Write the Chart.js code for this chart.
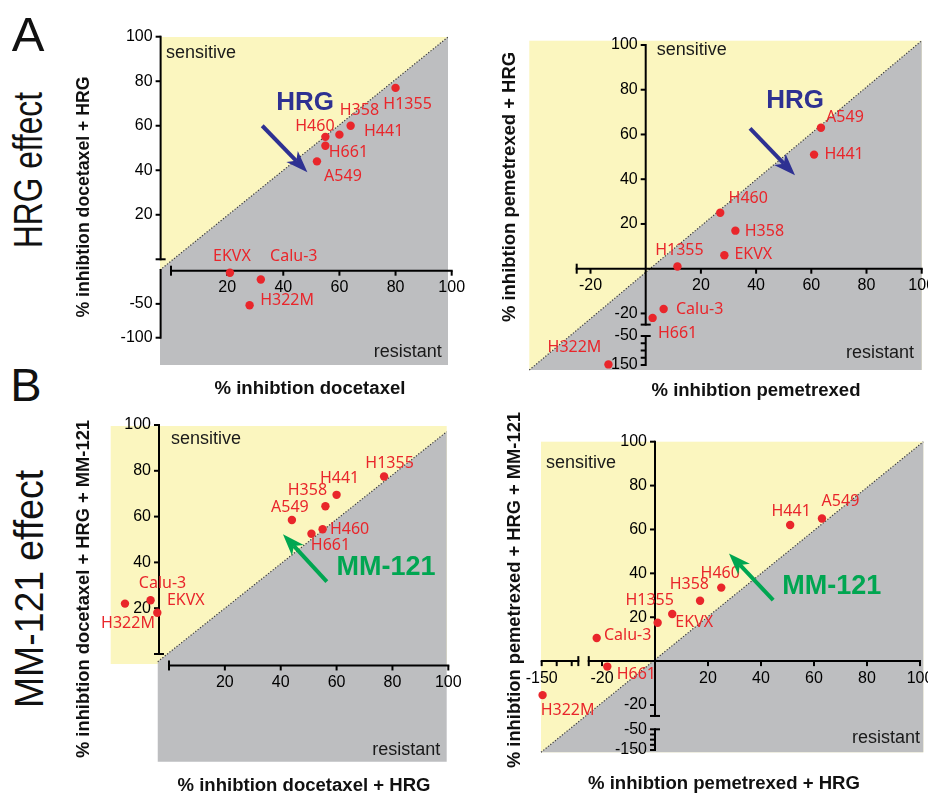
<!DOCTYPE html>
<html>
<head>
<meta charset="utf-8">
<title>HRG and MM-121 effect</title>
<script src="https://cdn.jsdelivr.net/npm/chart.js@4.4.0/dist/chart.umd.min.js"></script>
<style>
  body { margin: 0; background: #fff; }
  #page { position: relative; width: 928px; height: 793px; overflow: hidden; font-family: "Liberation Sans", Arial, sans-serif; color: #111; }
  canvas { position: absolute; }
  .txt { position: absolute; white-space: nowrap; line-height: 1; }
</style>
</head>
<body>
<div id="page">
  <canvas id="aLeft" width="430" height="400" style="left:60px;top:0px"></canvas>
  <canvas id="aRight" width="438" height="400" style="left:490px;top:0px"></canvas>
  <canvas id="bLeft" width="430" height="393" style="left:60px;top:400px"></canvas>
  <canvas id="bRight" width="438" height="393" style="left:490px;top:400px"></canvas>
</div>
<script>
// ---- data: % inhibition per cell line ----
// A, docetaxel
const aLeftNames = ["H1355", "H441", "H358", "H460", "H661", "A549", "EKVX", "Calu-3", "H322M"];
const aLeftX = [80, 64, 60, 55, 55, 52, 21, 32, 28];
const aLeftY = [77, 60, 56, 55, 51, 44, -4, -14, -52];
// A, pemetrexed
const aRightNames = ["A549", "H441", "H460", "H358", "EKVX", "H1355", "Calu-3", "H661", "H322M"];
const aRightX = [63.5, 61, 27, 32.5, 28.5, 11.5, 6.5, 2.5, -13.5];
const aRightY = [63, 51, 25, 17, 6, 1, -18, -22, -148];
// B, docetaxel + HRG
const bLeftNames = ["H1355", "H441", "H358", "A549", "H460", "H661", "Calu-3", "EKVX", "H322M"];
const bLeftX = [77, 60, 56, 44, 55, 51, -14, -4, -52];
const bLeftY = [77.5, 69.5, 64.5, 58.5, 54.5, 52.5, 23.5, 18, 22];
// B, pemetrexed + HRG
const bRightNames = ["A549", "H441", "H460", "H358", "EKVX", "H1355", "Calu-3", "H661", "H322M"];
const bRightX = [63, 51, 25, 17, 6.5, 1, -22, -18, -147];
const bRightY = [65, 62, 33.5, 27.5, 21.5, 17.5, 10.5, -2.5, -15.5];

// tick values
const ticksPos = [20, 40, 60, 80, 100];
const ticksPosNeg = [-20, 20, 40, 60, 80, 100];
const ticksLow100 = [-50, -100];
const ticksLow150 = [-75, -100, -125, -150];
const labelsLow150 = [-50, -150];
const ticksLowX150 = [-150, -100, -50];

const RED = "#e9262b";
const YELLOW = "#fbf6bf";
const GREY = "#bdbec0";
const BLUE = "#2e3192";
const GREEN = "#00a651";
const TICK_FONT = '16px "Liberation Sans", Arial, sans-serif';
const NAME_FONT = '16px "Noto Sans", "Liberation Sans", sans-serif';
const CORNER_FONT = '18px "Liberation Sans", Arial, sans-serif';

// scale with broken (piecewise linear) segments
class BrokenScale extends Chart.LinearScale {
  segFor(v) {
    const s = this.options.segments;
    for (let i = s.length - 1; i >= 0; i--) {
      if (v >= s[i].from && v <= s[i].to) return i;
    }
    let best = 0, bd = Infinity;
    for (let i = 0; i < s.length; i++) {
      const d = Math.min(Math.abs(v - s[i].from), Math.abs(v - s[i].to));
      if (d < bd) { bd = d; best = i; }
    }
    return best;
  }
  pixelInSeg(i, v) {
    const g = this.options.segments[i];
    return this.getPixelForDecimal(g.a + (v - g.from) / (g.to - g.from) * (g.b - g.a));
  }
  getPixelForValue(v) {
    if (v === null || v === undefined || isNaN(v)) return NaN;
    return this.pixelInSeg(this.segFor(v), v);
  }
}
BrokenScale.id = "broken";
BrokenScale.defaults = {};
Chart.register(BrokenScale);

function line(ctx, x0, y0, x1, y1) {
  ctx.beginPath(); ctx.moveTo(x0, y0); ctx.lineTo(x1, y1); ctx.stroke();
}

function arrow(ctx, x0, y0, x1, y1, color) {
  const ang = Math.atan2(y1 - y0, x1 - x0), hl = 22, hw = 8;
  const c = Math.cos(ang), s = Math.sin(ang);
  const bx = x1 - hl * c, by = y1 - hl * s;
  ctx.strokeStyle = color; ctx.fillStyle = color; ctx.lineWidth = 4;
  line(ctx, x0, y0, bx + 6 * c, by + 6 * s);
  ctx.beginPath();
  ctx.moveTo(x1, y1);
  ctx.lineTo(bx + hw * s, by - hw * c);
  ctx.lineTo(bx + 6 * c, by + 6 * s);
  ctx.lineTo(bx - hw * s, by + hw * c);
  ctx.closePath(); ctx.fill();
}

function panelPlugin(cfg, names) {
  return {
    id: "panel",
    beforeDatasetsDraw(chart) {
      const ctx = chart.ctx, a = chart.chartArea;
      const xs = chart.scales.x, ys = chart.scales.y;
      const fx = f => a.left + f * (a.right - a.left);
      const fy = f => a.bottom - f * (a.bottom - a.top);
      ctx.save();
      // background regions
      const yb = cfg.yellow;
      ctx.fillStyle = YELLOW;
      ctx.fillRect(fx(yb[0]), fy(yb[3]), fx(yb[2]) - fx(yb[0]), fy(yb[1]) - fy(yb[3]));
      ctx.fillStyle = GREY;
      ctx.beginPath();
      cfg.grey.forEach(([u, v], i) => i ? ctx.lineTo(fx(u), fy(v)) : ctx.moveTo(fx(u), fy(v)));
      ctx.closePath(); ctx.fill();
      ctx.strokeStyle = "#3a3a3a"; ctx.lineWidth = 1.2; ctx.setLineDash([1.2, 1.8]);
      line(ctx, fx(cfg.grey[0][0]), fy(cfg.grey[0][1]), fx(cfg.grey[1][0]), fy(cfg.grey[1][1]));
      ctx.setLineDash([]);

      // axes
      ctx.strokeStyle = "#000"; ctx.fillStyle = "#000"; ctx.lineWidth = 2;
      ctx.font = TICK_FONT;
      cfg.xAxes.forEach(ax => {
        const g = xs.options.segments[ax.seg];
        const y = ys.getPixelForValue(ax.at);
        const p0 = xs.pixelInSeg(ax.seg, g.from), p1 = xs.pixelInSeg(ax.seg, g.to);
        line(ctx, p0 - 1, y, p1 + 1, y);
        ax.ticks.forEach(v => { const p = xs.pixelInSeg(ax.seg, v); line(ctx, p, y, p, y + 5); });
        if (ax.capStart) line(ctx, p0, y - 5, p0, y + 5);
        if (ax.capEnd) line(ctx, p1, y - 5, p1, y + 5);
        ctx.textAlign = "center"; ctx.textBaseline = "middle";
        ax.labels.forEach(v => ctx.fillText(String(v), xs.pixelInSeg(ax.seg, v), y + 17));
      });
      cfg.yAxes.forEach(ax => {
        const g = ys.options.segments[ax.seg];
        const x = xs.getPixelForValue(ax.at);
        const p0 = ys.pixelInSeg(ax.seg, g.from), p1 = ys.pixelInSeg(ax.seg, g.to);
        line(ctx, x, p0 + 1, x, p1 - 1);
        ax.ticks.forEach(v => { const p = ys.pixelInSeg(ax.seg, v); line(ctx, x - 5, p, x, p); });
        if (ax.capStart) line(ctx, x - 5, p0, x + 5, p0);
        if (ax.capEnd) line(ctx, x - 5, p1, x + 5, p1);
        ctx.textAlign = "right"; ctx.textBaseline = "middle";
        ax.labels.forEach(v => ctx.fillText(String(v), x - 8, ys.pixelInSeg(ax.seg, v)));
      });
      ctx.restore();
    },
    afterDatasetsDraw(chart) {
      const ctx = chart.ctx, xs = chart.scales.x, ys = chart.scales.y;
      const pts = chart.getDatasetMeta(0).data;
      ctx.save();
      ctx.font = NAME_FONT; ctx.fillStyle = RED;
      ctx.textAlign = "center"; ctx.textBaseline = "middle";
      pts.forEach((p, i) => {
        const off = cfg.nameOffsets[i];
        ctx.fillText(names[i], p.x + off[0], p.y + off[1]);
      });
      cfg.notes.forEach(n => {
        ctx.font = n.font; ctx.fillStyle = n.color; ctx.textAlign = n.align;
        ctx.fillText(n.text, xs.getPixelForValue(n.x), ys.getPixelForValue(n.y));
      });
      const ar = cfg.arrow;
      arrow(ctx, xs.getPixelForValue(ar.x0), ys.getPixelForValue(ar.y0),
        xs.getPixelForValue(ar.x1), ys.getPixelForValue(ar.y1), ar.color);
      ctx.restore();
    }
  };
}

function makePanel(id, names, xv, yv, cfg) {
  new Chart(document.getElementById(id), {
    type: "scatter",
    data: {
      datasets: [{
        data: names.map((n, i) => ({ x: xv[i], y: yv[i] })),
        backgroundColor: RED,
        borderWidth: 0,
        pointRadius: 4.2,
        clip: false
      }]
    },
    options: {
      responsive: false,
      animation: false,
      events: [],
      layout: { padding: cfg.padding },
      plugins: { legend: { display: false }, tooltip: { enabled: false } },
      scales: {
        x: { type: "broken", display: false, min: cfg.xMin, max: 100, segments: cfg.xSeg },
        y: { type: "broken", display: false, min: cfg.yMin, max: 100, segments: cfg.ySeg }
      }
    },
    plugins: [panelPlugin(cfg, names)]
  });
}

const hrgFont = 'bold 26px "Liberation Sans", Arial, sans-serif';
const mmFont = 'bold 27px "Liberation Sans", Arial, sans-serif';
function corner(text, x, y, align) {
  return { text, x, y, align, font: CORNER_FONT, color: "#1a1a1a" };
}

makePanel("aLeft", aLeftNames, aLeftX, aLeftY, {
  padding: { left: 100, top: 37, right: 42, bottom: 35 },
  xMin: 0, yMin: -100,
  xSeg: [{ from: 0, to: 100, a: 0.0382, b: 1.0128 }],
  ySeg: [{ from: -100, to: 0, a: 0.0832, b: 0.2896 }, { from: 0, to: 100, a: 0.3223, b: 1.0009 }],
  yellow: [0, 0, 1, 1],
  grey: [[0, 0.2896], [1, 1], [1, 0], [0, 0]],
  xAxes: [{ seg: 0, at: -1, ticks: ticksPos, labels: ticksPos, capStart: true }],
  yAxes: [
    { seg: 1, at: -3.7, ticks: ticksPos, labels: ticksPos, capStart: true },
    { seg: 0, at: -3.7, ticks: ticksLow100, labels: ticksLow100 }
  ],
  nameOffsets: [[12, 17], [33, 6], [20, -24], [-10.5, -10], [23, 7], [26, 15], [2, -16], [33, -22.6], [37.5, -5]],
  notes: [
    corner("sensitive", -1.8, 92.7, "left"),
    corner("resistant", 96.5, -120.7, "right"),
    { text: "HRG", x: 47.8, y: 70.5, align: "center", font: hrgFont, color: BLUE }
  ],
  arrow: { x0: 32.5, y0: 60, x1: 48.6, y1: 39.1, color: BLUE }
});

makePanel("aRight", aRightNames, aRightX, aRightY, {
  padding: { left: 39.3, top: 40.7, right: 6.3, bottom: 30 },
  xMin: -25, yMin: -150,
  xSeg: [{ from: -25, to: 100, a: 0.1208, b: 1.0 }],
  ySeg: [{ from: -150, to: -50, a: 0.0152, b: 0.1032 }, { from: -25, to: 100, a: 0.1378, b: 0.987 }],
  yellow: [0, 0, 1, 1],
  grey: [[0, 0], [1, 1], [1, 0]],
  xAxes: [{ seg: 0, at: 0, ticks: ticksPosNeg, labels: ticksPosNeg, capStart: true }],
  yAxes: [
    { seg: 1, at: 0, ticks: ticksPosNeg, labels: ticksPosNeg, capStart: true },
    { seg: 0, at: 0, ticks: ticksLow150, labels: labelsLow150, capEnd: true }
  ],
  nameOffsets: [[24, -10], [30, 0], [28, -14], [29, 1], [29, -1], [2, -16], [36, 0], [25, 16], [-34, -17]],
  notes: [
    corner("sensitive", 4, 97.6, "left"),
    corner("resistant", 97.2, -107.6, "right"),
    { text: "HRG", x: 54.1, y: 74.9, align: "center", font: hrgFont, color: BLUE }
  ],
  arrow: { x0: 37.8, y0: 62.7, x1: 54.1, y1: 41.8, color: BLUE }
});

makePanel("bLeft", bLeftNames, bLeftX, bLeftY, {
  padding: { left: 50.7, top: 26, right: 43.3, bottom: 31.3 },
  xMin: -60, yMin: 0,
  xSeg: [{ from: -60, to: 0, a: 0.0265, b: 0.1467 }, { from: 0, to: 100, a: 0.1735, b: 1.0048 }],
  ySeg: [{ from: 0, to: 100, a: 0.3208, b: 1.003 }],
  yellow: [0, 0.291, 1, 1],
  grey: [[0.14, 0.298], [1, 0.983], [1, 0], [0.14, 0]],
  xAxes: [{ seg: 1, at: -5, ticks: ticksPos, labels: ticksPos, capStart: true }],
  yAxes: [{ seg: 0, at: -1.5, ticks: ticksPos, labels: ticksPos, capStart: true }],
  nameOffsets: [[5.5, -13], [3, -16], [-18, -16], [-2, -13], [27, 0], [19, 12], [12, -17], [28.5, -12], [3, 20]],
  notes: [
    corner("sensitive", 0.7, 93.9, "left"),
    corner("resistant", 97.1, -41.9, "right"),
    { text: "MM-121", x: 77.7, y: 37.9, align: "center", font: mmFont, color: GREEN }
  ],
  arrow: { x0: 56.5, y0: 31.6, x1: 40.8, y1: 52.3, color: GREEN }
});

makePanel("bRight", bRightNames, bRightX, bRightY, {
  padding: { left: 51, top: 41.7, right: 4.7, bottom: 40.7 },
  xMin: -150, yMin: -150,
  xSeg: [{ from: -150, to: -28, a: 0.0018, b: 0.0976 }, { from: -25, to: 100, a: 0.1249, b: 0.9914 }],
  ySeg: [{ from: -150, to: -50, a: 0.0074, b: 0.074 }, { from: -25, to: 100, a: 0.117, b: 1.0 }],
  yellow: [0, 0, 1, 1],
  grey: [[0, 0], [1, 1], [1, 0]],
  xAxes: [
    { seg: 1, at: 0, ticks: ticksPosNeg, labels: ticksPosNeg, capStart: true },
    { seg: 0, at: 0, ticks: ticksLowX150, labels: [-150], capEnd: true }
  ],
  yAxes: [
    { seg: 1, at: 0, ticks: ticksPosNeg, labels: ticksPosNeg, capStart: true },
    { seg: 0, at: 0, ticks: ticksLow150, labels: labelsLow150, capEnd: true }
  ],
  nameOffsets: [[18.5, -17], [1, -14], [-1, -14], [-10.7, -16.7], [22, 9], [-8, -22.7], [31, -3], [29, 8], [25, 15]],
  notes: [
    corner("sensitive", -135.7, 90.2, "left"),
    corner("resistant", 100, -93.5, "right"),
    { text: "MM-121", x: 66.7, y: 34.1, align: "center", font: mmFont, color: GREEN }
  ],
  arrow: { x0: 44.6, y0: 27.8, x1: 27.9, y1: 49.1, color: GREEN }
});

// ---- page texts (letters, row titles, axis titles) ----
const page = document.getElementById("page");
const measure = document.createElement("canvas").getContext("2d");
function addText(text, cx, cy, size, weight, rotate, length) {
  const el = document.createElement("div");
  el.className = "txt";
  el.textContent = text;
  const font = weight + " " + size + 'px "Liberation Sans", Arial, sans-serif';
  el.style.font = font;
  el.style.lineHeight = "1";
  el.style.left = cx + "px";
  el.style.top = cy + "px";
  let k = 1;
  if (length) {
    measure.font = font;
    k = length / measure.measureText(text).width;
  }
  el.style.transform = "translate(-50%,-50%)" + (rotate ? " rotate(-90deg)" : "") + " scaleX(" + k.toFixed(3) + ")";
  page.appendChild(el);
}

addText("A", 28, 34, 49, "normal", false);
addText("B", 26, 384, 47, "normal", false);
addText("HRG effect", 28, 170, 41, "normal", true, 156);
addText("MM-121 effect", 29, 589, 41, "normal", true, 238);

addText("% inhibtion docetaxel + HRG", 83, 197, 18, "bold", true, 241);
addText("% inhibtion pemetrexed + HRG", 509, 187, 18, "bold", true, 270);
addText("% inhibtion docetaxel + HRG + MM-121", 83, 589, 18, "bold", true, 338);
addText("% inhibtion pemetrexed + HRG + MM-121", 514, 590, 18, "bold", true, 356);

addText("% inhibtion docetaxel", 310, 388, 18, "bold", false, 191);
addText("% inhibtion pemetrexed", 756, 390, 18, "bold", false, 209);
addText("% inhibtion docetaxel + HRG", 304, 785, 18, "bold", false, 253);
addText("% inhibtion pemetrexed + HRG", 724, 783, 18, "bold", false, 272);
</script>
</body>
</html>
